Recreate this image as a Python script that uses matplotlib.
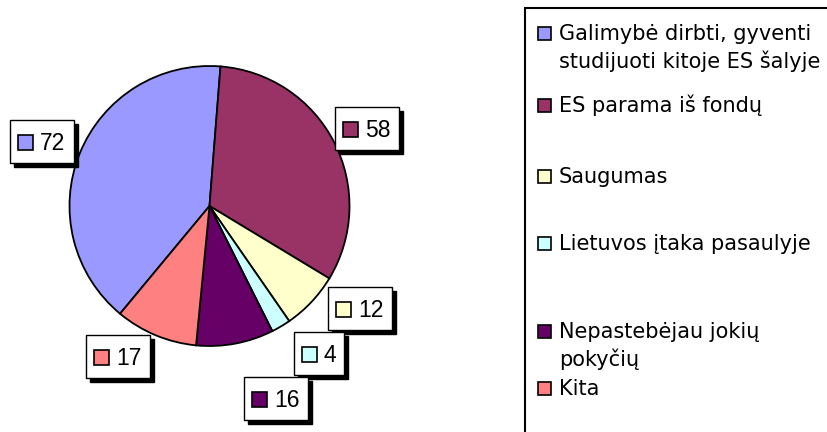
import matplotlib
matplotlib.use("Agg")
import matplotlib.pyplot as plt
from matplotlib.patches import Rectangle

plt.rcParams['font.family'] = ['Liberation Sans', 'DejaVu Sans']

# ---- data ----
categories = [
    "Galimybė dirbti, gyventi\nstudijuoti kitoje ES šalyje",
    "ES parama iš fondų",
    "Saugumas",
    "Lietuvos įtaka pasaulyje",
    "Nepastebėjau jokių\npokyčių",
    "Kita",
]
values = [72, 58, 12, 4, 16, 17]
colors = ["#9999FF", "#993366", "#FFFFCC", "#CCFFFF", "#660066", "#FF8080"]

# ---- layout (pixels, origin top-left) ----
W, H = 828, 432
label_boxes = [(10, 120), (335, 107), (328, 287), (294, 332), (244, 377), (86, 335)]
legend_baselines = [40, 112, 183, 250, 338, 395]

fig = plt.figure(figsize=(W / 100, H / 100), dpi=100)
fig.patch.set_facecolor("white")

# pie axes: center (209.5, 206) radius 140 px
cx, cy, r = 209.5, 206, 140
half = r * 1.25
ax = fig.add_axes([(cx - half) / W, (H - cy - half) / H, 2 * half / W, 2 * half / H])
ax.pie(values, colors=colors, startangle=230.3, counterclock=False,
       wedgeprops=dict(edgecolor="black", linewidth=1.3))
ax.set_xlim(-1.25, 1.25)
ax.set_ylim(-1.25, 1.25)
ax.set_aspect("equal")
ax.axis("off")

# overlay axes in pixel coords
ov = fig.add_axes([0, 0, 1, 1], zorder=5)
ov.set_xlim(0, W)
ov.set_ylim(H, 0)
ov.axis("off")
ov.patch.set_alpha(0)

# data labels with shadowed boxes
for (bx, by), v, c in zip(label_boxes, values, colors):
    txt = str(v)
    bw = 36 + 14 * len(txt)
    bh = 43
    ov.add_patch(Rectangle((bx + 4, by + 4), bw, bh, facecolor="black", edgecolor="black", lw=1))
    ov.add_patch(Rectangle((bx, by), bw, bh, facecolor="white", edgecolor="black", lw=1))
    base = by + 30
    ov.add_patch(Rectangle((bx + 8, base - 15), 15, 15, facecolor=c, edgecolor="black", lw=1.2))
    ov.text(bx + 30, base, txt, fontsize=16.5, va="baseline", ha="left")

# legend box
ov.add_patch(Rectangle((525, 8), 400, 500, facecolor="white", edgecolor="black", lw=1.5))
for cat, c, bl in zip(categories, colors, legend_baselines):
    ov.add_patch(Rectangle((538, bl - 13), 13, 13, facecolor=c, edgecolor="black", lw=1.2))
    for i, line in enumerate(cat.split("\n")):
        ov.text(559, bl + i * 28.5, line, fontsize=15, va="baseline", ha="left",
                family=["DejaVu Sans"])

fig.savefig("out.png", dpi=100)
